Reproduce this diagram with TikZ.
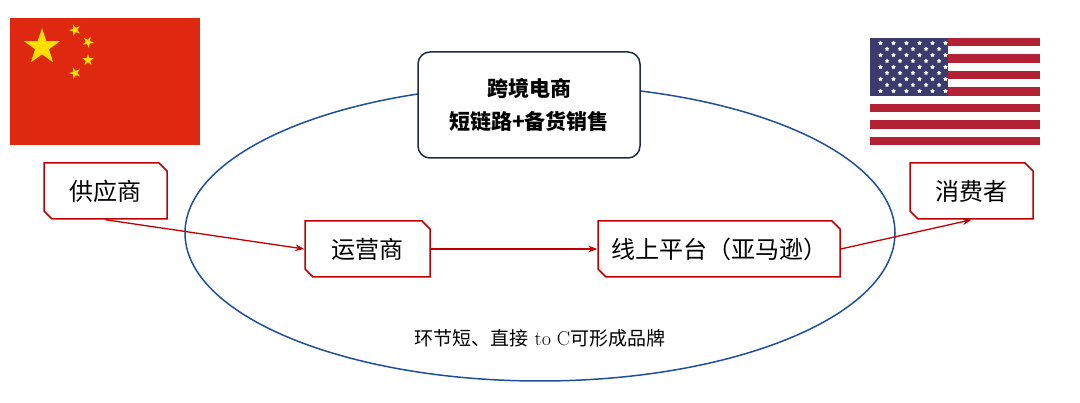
\documentclass[tikz,border=0pt]{standalone}
\usepackage{fontspec}
\newfontfamily\cjk{Noto Sans CJK SC}
\usetikzlibrary{arrows.meta, positioning, shapes.misc, shapes.geometric}
\definecolor{flagred}{HTML}{DE2910}
\definecolor{flagyellow}{HTML}{FFDE00}
\definecolor{usred}{HTML}{B22234}
\definecolor{usblue}{HTML}{3C3B6E}
\definecolor{boxred}{HTML}{C00000}
\definecolor{ringblue}{HTML}{1F4E9C}
\definecolor{darkblue}{HTML}{1F2A44}

\begin{document}
\begin{tikzpicture}[x=1pt,y=-1pt]

  \tikzset{
    party/.style={
      chamfered rectangle,
      chamfered rectangle corners={north east, south west},
      chamfered rectangle xsep=4pt,
      chamfered rectangle ysep=4pt,
      draw=boxred,
      line width=1.5pt,
      fill=white,
      font=\cjk\fontsize{24}{28}\selectfont,
      minimum height=56pt,
    },
    flow/.style={draw=boxred, line width=1.3pt, -{Stealth[length=9pt]}},
    bigstar/.style={star, star points=5, star point ratio=2.6, fill=flagyellow, inner sep=0pt},
  }

  \useasboundingbox (0,0) rectangle (1080,403);

  % China flag
  \fill[flagred] (10,18) rectangle (200,145);
  \node[bigstar, minimum size=38pt] (cnbig) at (42,47) {};
  \foreach \px/\py/\rot in {75/30/20, 88/42/45, 88/60/0, 75/73/20}
    \node[bigstar, minimum size=12pt, rotate=\rot] at (\px,\py) {};

  % US flag
  \foreach \k in {0,...,12}{
    \pgfmathsetmacro{\ya}{38+\k*107/13}
    \pgfmathsetmacro{\yb}{38+(\k+1)*107/13}
    \ifodd\k \fill[white] (870,\ya) rectangle (1040,\yb);
    \else \fill[usred] (870,\ya) rectangle (1040,\yb); \fi
  }
  \fill[usblue] (870,38) rectangle (948,95.6);
  \foreach \r in {0,...,8}{
    \ifodd\r
      \foreach \c in {0,...,4}
        \node[star, star points=5, fill=white, inner sep=0pt, minimum size=4.5pt] at (880.5+\c*13+6.5,43+\r*6) {};
    \else
      \foreach \c in {0,...,5}
        \node[star, star points=5, fill=white, inner sep=0pt, minimum size=4.5pt] at (880.5+\c*13,43+\r*6) {};
    \fi
  }

  % ring
  \draw[ringblue, line width=1.5pt] (540,233) ellipse [x radius=355pt, y radius=148pt];

  \node[draw=darkblue, line width=1.5pt, rounded corners=12pt, fill=white,
        minimum width=222pt, minimum height=106pt, align=center,
        font=\cjk\bfseries\fontsize{21}{33}\selectfont] (mode) at (529,105)
    {跨境电商\\短链路+备货销售};

  \node[party, minimum width=123pt] (supplier) at (105.5,191) {供应商};
  \node[party, minimum width=125pt] (operator) at (367.5,249) {运营商};
  \node[party, minimum width=242pt] (platform) at (719,249) {线上平台（亚马逊）};
  \node[party, minimum width=123pt] (consumer) at (971.5,191) {消费者};

  \node[font=\cjk\fontsize{19}{22}\selectfont] (note) at (540,338)
    {环节短、直接{\rmfamily\fontsize{20}{22}\selectfont\ to C}可形成品牌};

  \draw[flow] (supplier.south) -- (operator.west);
  \draw[flow] (operator.east) -- (platform.west);
  \draw[flow] (platform.east) -- (consumer.south);

\end{tikzpicture}
\end{document}
